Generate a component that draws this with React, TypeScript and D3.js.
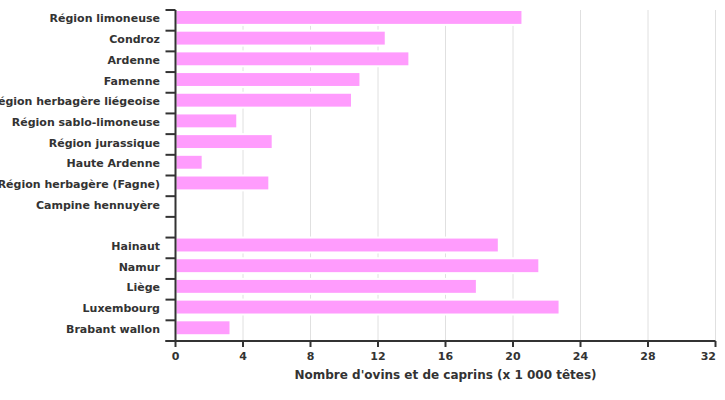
import React from "react";
import * as d3 from "d3";

const categories = [
  "Région limoneuse",
  "Condroz",
  "Ardenne",
  "Famenne",
  "Région herbagère liégeoise",
  "Région sablo-limoneuse",
  "Région jurassique",
  "Haute Ardenne",
  "Région herbagère (Fagne)",
  "Campine hennuyère",
  "",
  "Hainaut",
  "Namur",
  "Liège",
  "Luxembourg",
  "Brabant wallon",
];
const values: (number | null)[] = [
  20.5, 12.4, 13.8, 10.9, 10.4, 3.6, 5.7, 1.55, 5.5, 0, null, 19.1, 21.5, 17.8, 22.7, 3.2,
];
const xTicks = [0, 4, 8, 12, 16, 20, 24, 28, 32];
const xTitle = "Nombre d'ovins et de caprins (x 1 000 têtes)";

const W = 725;
const H = 400;
const left = 175.5;
const right = 715.5;
const top = 10;
const bottom = 341;
const font = "'DejaVu Sans', Verdana, sans-serif";
const axisColor = "#333";
const barColor = "#ff9cfd";

export default function App() {
  const x = d3.scaleLinear().domain([0, 32]).range([left, right]);
  const keys = categories.map((c, i) => `${i}`);
  const y = d3.scaleBand<string>().domain(keys).range([top, bottom]).padding(0);
  const bh = y.bandwidth() * 0.72;

  return (
    <svg
      width={W}
      height={H}
      style={{ position: "absolute", left: 0, top: 0, background: "#fff" }}
      fontFamily={font}
    >
      {xTicks.slice(1).map((t) => (
        <line key={`g${t}`} x1={x(t)} x2={x(t)} y1={top} y2={bottom} stroke="#e0e0e0" strokeWidth={1} />
      ))}
      {categories.map((c, i) =>
        values[i] != null && (values[i] as number) > 0 ? (
          <rect
            key={`b${i}`}
            x={x(0)}
            y={y(keys[i])!}
            width={x(values[i] as number) - x(0) + 1}
            height={bh}
            fill={barColor}
            stroke="#fff"
            strokeWidth={2}
          />
        ) : null
      )}
      <line x1={x(0)} x2={x(0)} y1={top} y2={bottom} stroke={axisColor} strokeWidth={2} />
      {d3.range(categories.length + 1).map((i) => {
        const yy = top + i * y.step();
        return <line key={`yt${i}`} x1={x(0) - 10} x2={x(0)} y1={yy} y2={yy} stroke={axisColor} strokeWidth={2} />;
      })}
      {categories.map((c, i) => (
        <text
          key={`yl${i}`}
          x={160}
          y={y(keys[i])! + bh / 2 + 1.5}
          textAnchor="end"
          dominantBaseline="central"
          fontSize={11}
          fontWeight="bold"
          fill={axisColor}
        >
          {c}
        </text>
      ))}
      <line x1={x(0) - 10} x2={right} y1={bottom} y2={bottom} stroke={axisColor} strokeWidth={2} />
      {xTicks.map((t, i) => {
        const last = i === xTicks.length - 1;
        return (
          <g key={`xt${t}`}>
            <line x1={x(t)} x2={x(t)} y1={bottom} y2={bottom + 6} stroke={axisColor} strokeWidth={2} />
            <text
              x={last ? x(t) + 0.5 : x(t)}
              y={bottom + 15}
              textAnchor={last ? "end" : "middle"}
              dominantBaseline="central"
              fontSize={11}
              fontWeight="bold"
              fill={axisColor}
            >
              {t}
            </text>
          </g>
        );
      })}
      <text
        x={(left + right) / 2}
        y={375}
        textAnchor="middle"
        dominantBaseline="central"
        fontSize={12}
        fontWeight="bold"
        fill={axisColor}
      >
        {xTitle}
      </text>
    </svg>
  );
}
